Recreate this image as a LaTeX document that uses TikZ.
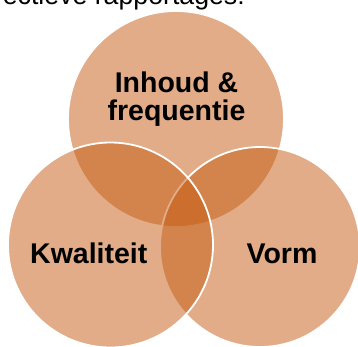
\documentclass[tikz,border=0pt]{standalone}
\usepackage{fontspec}
\setmainfont{Liberation Sans}
\definecolor{vennfill}{HTML}{C55A11}
\tikzset{
  venn/.style={circle, draw=white, line width=1.8pt, fill=vennfill, fill opacity=0.5, draw opacity=1, inner sep=0pt, outer sep=0pt},
  lbl/.style={inner sep=0pt, anchor=base, font=\fontsize{28.5}{29}\selectfont\bfseries, text=black},
  toptext/.style={inner sep=0pt, anchor=base east, font=\fontsize{26.7}{30}\selectfont, text=black}
}
\begin{document}
\begin{tikzpicture}[x=1pt,y=-1pt]
\useasboundingbox (0,0) rectangle (358,347);
\clip (0,0) rectangle (358,347);
\node[toptext] (head) at (245,4.5) {effectieve rapportages:};
\node[venn, minimum size=216pt] (ctop) at (176,119) {};
\node[venn, minimum size=200pt] (cright) at (260,247) {};
\node[venn, minimum size=205pt] (cleft) at (110.5,245) {};
\node[lbl] (inhoud) at (176.5,92.3) {Inhoud \&};
\node[lbl] (freq) at (176.5,121) {frequentie};
\node[lbl] (kwal) at (88.8,263.3) {Kwaliteit};
\node[lbl] (vorm) at (282,263.3) {Vorm};
\end{tikzpicture}
\end{document}
